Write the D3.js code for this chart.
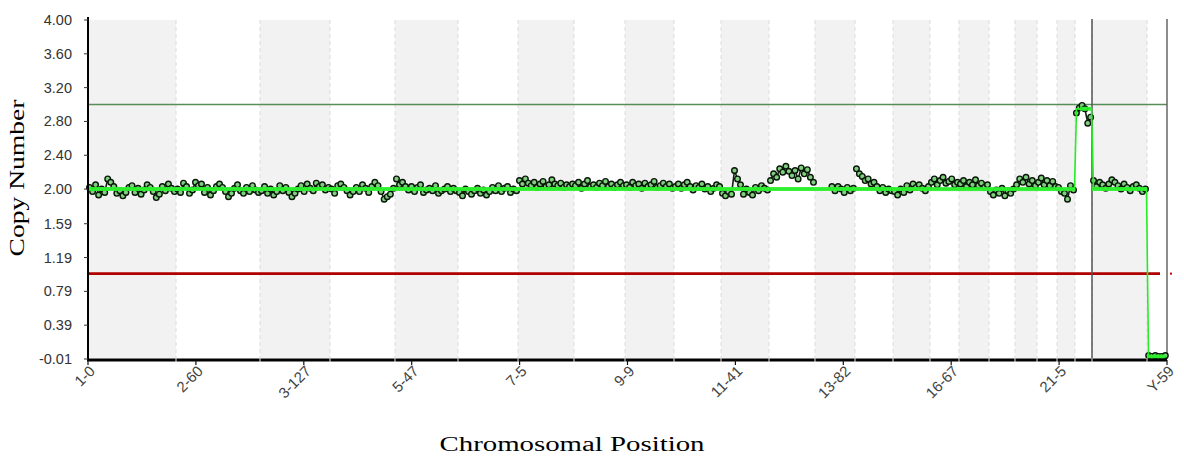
<!DOCTYPE html>
<html>
<head>
<meta charset="utf-8">
<script src="https://cdn.jsdelivr.net/npm/d3@7"></script>
<style>
  body { margin: 0; background: #fff; }
  svg { display: block; }
</style>
</head>
<body>
<svg id="chart" width="1184" height="457"></svg>
<script>
// chromosome names and their widths on the axis (probe bins)
var chroms   = ["1","2","3","4","5","6","7","8","9","10","11","12","13","14","15","16","17","18","19","20","21","22","X","Y"];
var chromLen = [88,84,70,65,63,60,56,51,49,47,48,46,40,38,37,29,30,26,22,20,18,17,55,20];

// segment mean (green line) per chromosome
var segMeans = [2,2,2,2,2,2,2,2,2,2,2,2,2,2,2,2,2,2,2,2,2,2.95,2,0.02];

// copy number points per chromosome
var cn = [
  [2.02,1.97,2.05,1.93,2.00,1.96,2.12,2.08,2.03,1.95,1.98,1.92,1.96,2.02,2.04,1.96,2.01,1.94,1.99,2.05,2.02,1.97,1.90,1.94,2.03,1.98,2.06,2.01,1.97],
  [2.00,1.96,2.07,2.03,1.95,1.99,2.08,2.04,2.06,1.96,2.02,1.93,1.98,2.03,2.06,2.02,1.97,1.91,1.95,2.01,2.05,1.98,1.95,2.02,1.97,2.04,1.99,1.96],
  [1.98,2.03,1.95,2.00,1.93,1.97,2.04,1.98,2.02,1.96,1.91,1.95,2.00,2.04,1.97,2.06,2.01,1.98,2.07,2.03,2.05,1.99,2.02],
  [2.00,1.95,2.04,2.06,2.02,1.98,1.93,1.97,2.02,1.97,2.05,2.01,1.96,2.03,2.08,2.04,1.97,1.88,1.91,1.94,2.01],
  [2.12,2.05,2.08,2.03,1.99,2.03,1.97,2.02,2.05,1.96,1.99,2.01,1.98,2.04,1.95,1.98,2.00,2.03,1.97,2.01,1.98],
  [1.96,1.92,2.00,1.97,1.94,1.98,2.01,1.95,1.99,1.93,1.97,2.02,1.98,2.04,1.97,2.01,2.03,1.96,2.00,1.98],
  [2.10,2.06,2.12,2.07,2.04,2.08,2.02,2.06,2.09,2.03,2.05,2.11,2.06,2.04,2.07,2.02,2.05,2.03,2.06],
  [2.04,2.08,2.01,2.06,2.10,2.03,2.05,2.02,2.07,2.04,2.09,2.03,2.06,2.02,2.05,2.08,2.04],
  [2.05,2.02,2.08,2.04,2.06,2.01,2.07,2.03,2.05,2.09,2.02,2.04,2.07,2.03,2.06,2.01],
  [2.03,2.06,2.01,2.05,2.08,2.03,1.99,2.04,2.02,2.06,2.00,2.03,1.97,2.01,2.05,2.03],
  [1.95,1.92,1.97,1.94,2.22,2.12,2.05,1.94,2.00,1.96,1.93,2.02,1.98,2.04,2.01,1.99],
  [2.10,2.18,2.14,2.24,2.20,2.27,2.21,2.16,2.22,2.12,2.25,2.18,2.23,2.14,2.08],
  [null,null,null,null,null,2.03,1.98,2.03,2.00,1.96,2.02,1.98,2.01],
  [2.24,2.18,2.15,2.10,2.12,2.06,2.08,2.03,1.98,2.02,1.96,2.00,1.98],
  [1.97,1.93,2.00,1.96,2.04,1.99,2.06,2.02,2.05,2.01,1.98,2.03],
  [2.08,2.12,2.05,2.10,2.14,2.07,2.09,2.12,2.05,2.08],
  [2.06,2.10,2.03,2.08,2.05,2.11,2.04,2.07,2.02,2.05],
  [1.97,1.93,1.99,1.95,2.01,1.92,1.98,1.95,2.00],
  [2.05,2.12,2.08,2.14,2.06,2.10,2.04],
  [2.08,2.13,2.05,2.10,2.04,2.09,2.03],
  [2.02,1.97,1.95,1.88,2.04,1.99],
  [2.90,2.96,2.99,2.95,2.78,2.85],
  [2.10,2.03,2.08,2.05,2.01,2.06,2.11,2.08,2.04,2.00,2.06,2.02,1.98,2.03,2.05,2.01,1.97,2.00],
  [0.03,0.02,0.03,0.02,0.02,0.03]
];

var yTicks = [4.00,3.60,3.20,2.80,2.40,2.00,1.59,1.19,0.79,0.39,-0.01];
var xTickLabels = ["1-0","2-60","3-127","5-47","7-5","9-9","11-41","13-82","16-67","21-5","Y-59"];
var gainLine = 3.0, lossLine = 1.0;

var svg = d3.select("#chart");
var L = 88, R = 1167, T = 20, B = 359;

var starts = [0];
chromLen.forEach(function(d, i) { starts.push(starts[i] + d); });
var total = starts[starts.length - 1];

var x = d3.scaleLinear().domain([0, total]).range([L, R]);
var y = d3.scaleLinear().domain([-0.01, 4.00]).range([B, T]);

// alternating chromosome bands
svg.append("g").selectAll("rect").data(d3.range(0, chroms.length, 2)).enter()
  .append("rect")
  .attr("x", i => x(starts[i]))
  .attr("width", i => x(starts[i+1]) - x(starts[i]))
  .attr("y", T).attr("height", B - T - 1)
  .attr("fill", "#f2f2f2");

svg.append("g").selectAll("line").data(starts.slice(1, -1)).enter()
  .append("line")
  .attr("x1", d => x(d)).attr("x2", d => x(d))
  .attr("y1", T).attr("y2", B + 4)
  .attr("stroke", "#dcdcdc").attr("stroke-dasharray", "4,3");

// threshold lines
svg.append("line").attr("x1", L).attr("x2", R).attr("y1", y(gainLine)).attr("y2", y(gainLine))
  .attr("stroke", "#578d57").attr("stroke-width", 1.6);
svg.append("line").attr("x1", L).attr("x2", R - 7).attr("y1", y(lossLine)).attr("y2", y(lossLine))
  .attr("stroke", "#b10000").attr("stroke-width", 2.6);
svg.append("rect").attr("x", R + 3).attr("y", y(lossLine) - 1).attr("width", 2).attr("height", 2)
  .attr("fill", "#c00");

// X chromosome marker and right border
svg.append("line").attr("x1", x(starts[22])).attr("x2", x(starts[22])).attr("y1", T - 1).attr("y2", B)
  .attr("stroke", "#555").attr("stroke-width", 1.5);
svg.append("line").attr("x1", R).attr("x2", R).attr("y1", T - 1).attr("y2", B)
  .attr("stroke", "#666").attr("stroke-width", 1.5);

// points
var pts = [];
cn.forEach(function(arr, c) {
  arr.forEach(function(v, j) {
    pts.push({ pos: starts[c] + (j + 0.5) / arr.length * chromLen[c], v: v, c: c });
  });
});

var line = d3.line().defined(d => d.v != null).x(d => x(d.pos)).y(d => y(d.v));
d3.range(chroms.length).forEach(function(c) {
  svg.append("path").datum(pts.filter(d => d.c == c)).attr("d", line)
    .attr("fill", "none").attr("stroke", "#0f200f").attr("stroke-width", 1.6);
});

svg.append("g").selectAll("circle").data(pts.filter(d => d.v != null)).enter()
  .append("circle").attr("r", 2.8)
  .attr("cx", d => x(d.pos)).attr("cy", d => y(d.v))
  .attr("fill", "#7fcf7f").attr("stroke", "#0a160a").attr("stroke-width", 1.4);

// segment means: thin connecting path + thick flat segments
var segPts = [];
segMeans.forEach(function(m, c) {
  segPts.push([starts[c] + 1.5, m]);
  segPts.push([starts[c + 1] - 0.5, m]);
});
svg.append("path")
  .attr("d", d3.line().x(d => x(d[0])).y(d => y(d[1]))(segPts))
  .attr("fill", "none").attr("stroke", "#22ee22").attr("stroke-width", 1.6);

svg.append("g").selectAll("line").data(segMeans).enter()
  .append("line")
  .attr("x1", (d, c) => x(starts[c] + (c == 21 ? 5 : 0)))
  .attr("x2", (d, c) => x(starts[c + 1]) - (c == 23 ? 2 : 0))
  .attr("y1", d => y(d)).attr("y2", d => y(d))
  .attr("stroke", "#2ef02e").attr("stroke-width", 4).attr("stroke-opacity", 0.92);

// axes
svg.append("line").attr("x1", L).attr("x2", L).attr("y1", T - 3).attr("y2", B + 1)
  .attr("stroke", "#000").attr("stroke-width", 2);
svg.append("line").attr("x1", L - 1).attr("x2", R).attr("y1", B + 1).attr("y2", B + 1)
  .attr("stroke", "#000").attr("stroke-width", 3);

svg.append("g").selectAll("line").data(starts.slice(1, -1)).enter()
  .append("line")
  .attr("x1", d => x(d)).attr("x2", d => x(d))
  .attr("y1", B - 1).attr("y2", B + 3)
  .attr("stroke", "#e6e6e6").attr("stroke-width", 1);

var yg = svg.append("g");
yg.selectAll("line").data(yTicks).enter().append("line")
  .attr("x1", L - 4).attr("x2", L).attr("y1", d => y(d)).attr("y2", d => y(d))
  .attr("stroke", "#333");
yg.selectAll("text").data(yTicks).enter().append("text")
  .attr("x", 72).attr("y", d => y(d) + 5)
  .attr("text-anchor", "end")
  .attr("font-family", "Liberation Sans, Arial, sans-serif").attr("font-size", 14.5)
  .attr("fill", "#333")
  .text(d => d.toFixed(2));

var xTicks = d3.range(xTickLabels.length).map(i => i * total / (xTickLabels.length - 1));
var xg = svg.append("g");
xg.selectAll("line").data(xTicks).enter().append("line")
  .attr("x1", d => x(d)).attr("x2", d => x(d)).attr("y1", B + 1).attr("y2", B + 6)
  .attr("stroke", "#111").attr("stroke-width", 1.2);
xg.selectAll("text").data(xTicks).enter().append("text")
  .attr("transform", d => "translate(" + (x(d) + 8) + "," + (B + 13) + ") rotate(-45)")
  .attr("text-anchor", "end")
  .attr("font-family", "Liberation Sans, Arial, sans-serif").attr("font-size", 15)
  .attr("fill", "#444")
  .text((d, i) => xTickLabels[i]);

// titles
svg.append("text")
  .attr("transform", "translate(24,178) rotate(-90)")
  .attr("text-anchor", "middle")
  .attr("font-family", "Liberation Serif, Times New Roman, serif").attr("font-size", 21)
  .attr("textLength", 157).attr("lengthAdjust", "spacingAndGlyphs")
  .text("Copy Number");

svg.append("text")
  .attr("x", 572).attr("y", 451)
  .attr("text-anchor", "middle")
  .attr("font-family", "Liberation Serif, Times New Roman, serif").attr("font-size", 20)
  .attr("textLength", 265).attr("lengthAdjust", "spacingAndGlyphs")
  .text("Chromosomal Position");
</script>
</body>
</html>
